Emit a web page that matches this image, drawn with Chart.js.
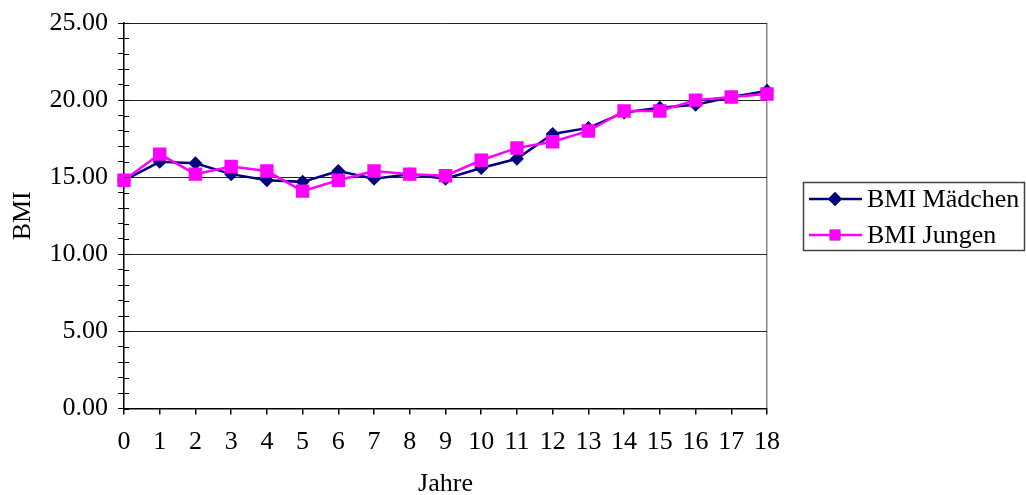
<!DOCTYPE html>
<html>
<head>
<meta charset="utf-8">
<script src="https://cdn.jsdelivr.net/npm/chart.js@4/dist/chart.umd.min.js"></script>
<style>
  html, body { margin: 0; padding: 0; background: #fff; }
  #wrap { width: 1026px; height: 495px; }
</style>
</head>
<body>
<div id="wrap"><canvas id="bmi-chart"></canvas></div>
<script>
const jahre = ['0','1','2','3','4','5','6','7','8','9','10','11','12','13','14','15','16','17','18'];
const bmiMaedchen = [14.8, 16.0, 15.9, 15.2, 14.8, 14.7, 15.4, 14.9, 15.2, 14.9, 15.6, 16.2, 17.8, 18.2, 19.2, 19.5, 19.7, 20.2, 20.6];
const bmiJungen = [14.8, 16.5, 15.2, 15.7, 15.4, 14.1, 14.8, 15.4, 15.2, 15.1, 16.1, 16.9, 17.3, 18.0, 19.3, 19.3, 20.0, 20.2, 20.4];
const seriesNames = ['BMI Mädchen', 'BMI Jungen'];
const seriesColors = ['#000080', '#FF00FF'];
const seriesMarkers = ['rectRot', 'rect'];

const FONT = "'Liberation Serif', 'Times New Roman', serif";
const FSIZE = 26;

// inner half of the y tick marks
const axisExtras = {
    id: 'axisExtras',
    afterDraw(chart) {
        const ctx = chart.ctx;
        const y = chart.scales.y;
        const area = chart.chartArea;
        ctx.save();
        ctx.strokeStyle = '#000';
        ctx.lineWidth = 1;
        y.ticks.forEach(t => {
            const py = Math.round(y.getPixelForValue(t.value)) + 0.5;
            ctx.beginPath();
            ctx.moveTo(area.left, py);
            ctx.lineTo(area.left + 5, py);
            ctx.stroke();
        });
        ctx.restore();
    }
};

// legend box like the original: line with marker, boxed
const boxLegend = {
    id: 'boxLegend',
    afterDraw(chart) {
        const ctx = chart.ctx;
        const area = chart.chartArea;
        const left = area.right + 36;
        const top = 182;
        const w = 1024 - left;
        const h = 68;
        ctx.save();
        ctx.strokeStyle = '#444';
        ctx.lineWidth = 1.5;
        ctx.strokeRect(left + 0.5, top + 0.5, w, h);
        ctx.font = FSIZE + 'px ' + FONT;
        ctx.textBaseline = 'middle';
        seriesNames.forEach((name, i) => {
            const cy = top + 17 + i * 36;
            ctx.strokeStyle = seriesColors[i];
            ctx.lineWidth = 2.5;
            ctx.beginPath();
            ctx.moveTo(left + 6, cy);
            ctx.lineTo(left + 59, cy);
            ctx.stroke();
            Chart.helpers.drawPoint(ctx, {
                pointStyle: seriesMarkers[i],
                radius: i === 0 ? 7 : 7.5,
                borderWidth: 0
            }, left + 32, cy);
            ctx.fillStyle = seriesColors[i];
            ctx.fill();
            ctx.fillStyle = '#000';
            ctx.fillText(name, left + 64, cy + 1);
        });
        ctx.restore();
    }
};

new Chart(document.querySelector('#bmi-chart').getContext('2d'), {
    type: 'line',
    data: {
        labels: jahre,
        datasets: [
            {
                label: seriesNames[0],
                data: bmiMaedchen,
                borderColor: seriesColors[0],
                backgroundColor: seriesColors[0],
                pointStyle: seriesMarkers[0],
                pointRadius: 7,
                pointBorderWidth: 0,
                borderWidth: 2.5,
                tension: 0,
                order: 1
            },
            {
                label: seriesNames[1],
                data: bmiJungen,
                borderColor: seriesColors[1],
                backgroundColor: seriesColors[1],
                pointStyle: seriesMarkers[1],
                pointRadius: 9.5,
                pointBorderWidth: 0,
                borderWidth: 2.5,
                tension: 0,
                order: 0
            }
        ]
    },
    options: {
        responsive: true,
        maintainAspectRatio: false,
        animation: false,
        layout: { padding: { left: 8, right: 259, top: 8, bottom: 1 } },
        plugins: {
            legend: { display: false },
            tooltip: { enabled: false }
        },
        scales: {
            x: {
                offset: false,
                grid: {
                    color: c => (c.index === jahre.length - 1 ? '#888' : 'transparent'),
                    tickColor: '#000',
                    tickLength: 6,
                    lineWidth: 1.5
                },
                border: { color: '#000', width: 1.5 },
                ticks: {
                    color: '#000',
                    font: { family: FONT, size: FSIZE },
                    padding: 12,
                    maxRotation: 0,
                    autoSkip: false
                },
                title: {
                    display: true,
                    text: 'Jahre',
                    color: '#000',
                    font: { family: FONT, size: FSIZE },
                    padding: { top: -1, bottom: -6 }
                }
            },
            y: {
                min: 0,
                max: 25,
                afterFit(scale) { scale.width = 116; },
                grid: {
                    color: c => (c.tick.value % 5 === 0 ? '#222' : 'transparent'),
                    tickColor: '#000',
                    tickLength: 6,
                    lineWidth: 1
                },
                border: { color: '#000', width: 1.5 },
                ticks: {
                    stepSize: 1,
                    autoSkip: false,
                    color: '#000',
                    font: { family: FONT, size: FSIZE, lineHeight: 1.0 },
                    padding: 10,
                    callback: v => (v % 5 === 0 ? v.toFixed(2) : '')
                },
                title: {
                    display: true,
                    text: 'BMI',
                    color: '#000',
                    font: { family: FONT, size: FSIZE },
                    padding: { top: 0, bottom: 0 }
                }
            }
        }
    },
    plugins: [axisExtras, boxLegend]
});
</script>
</body>
</html>
